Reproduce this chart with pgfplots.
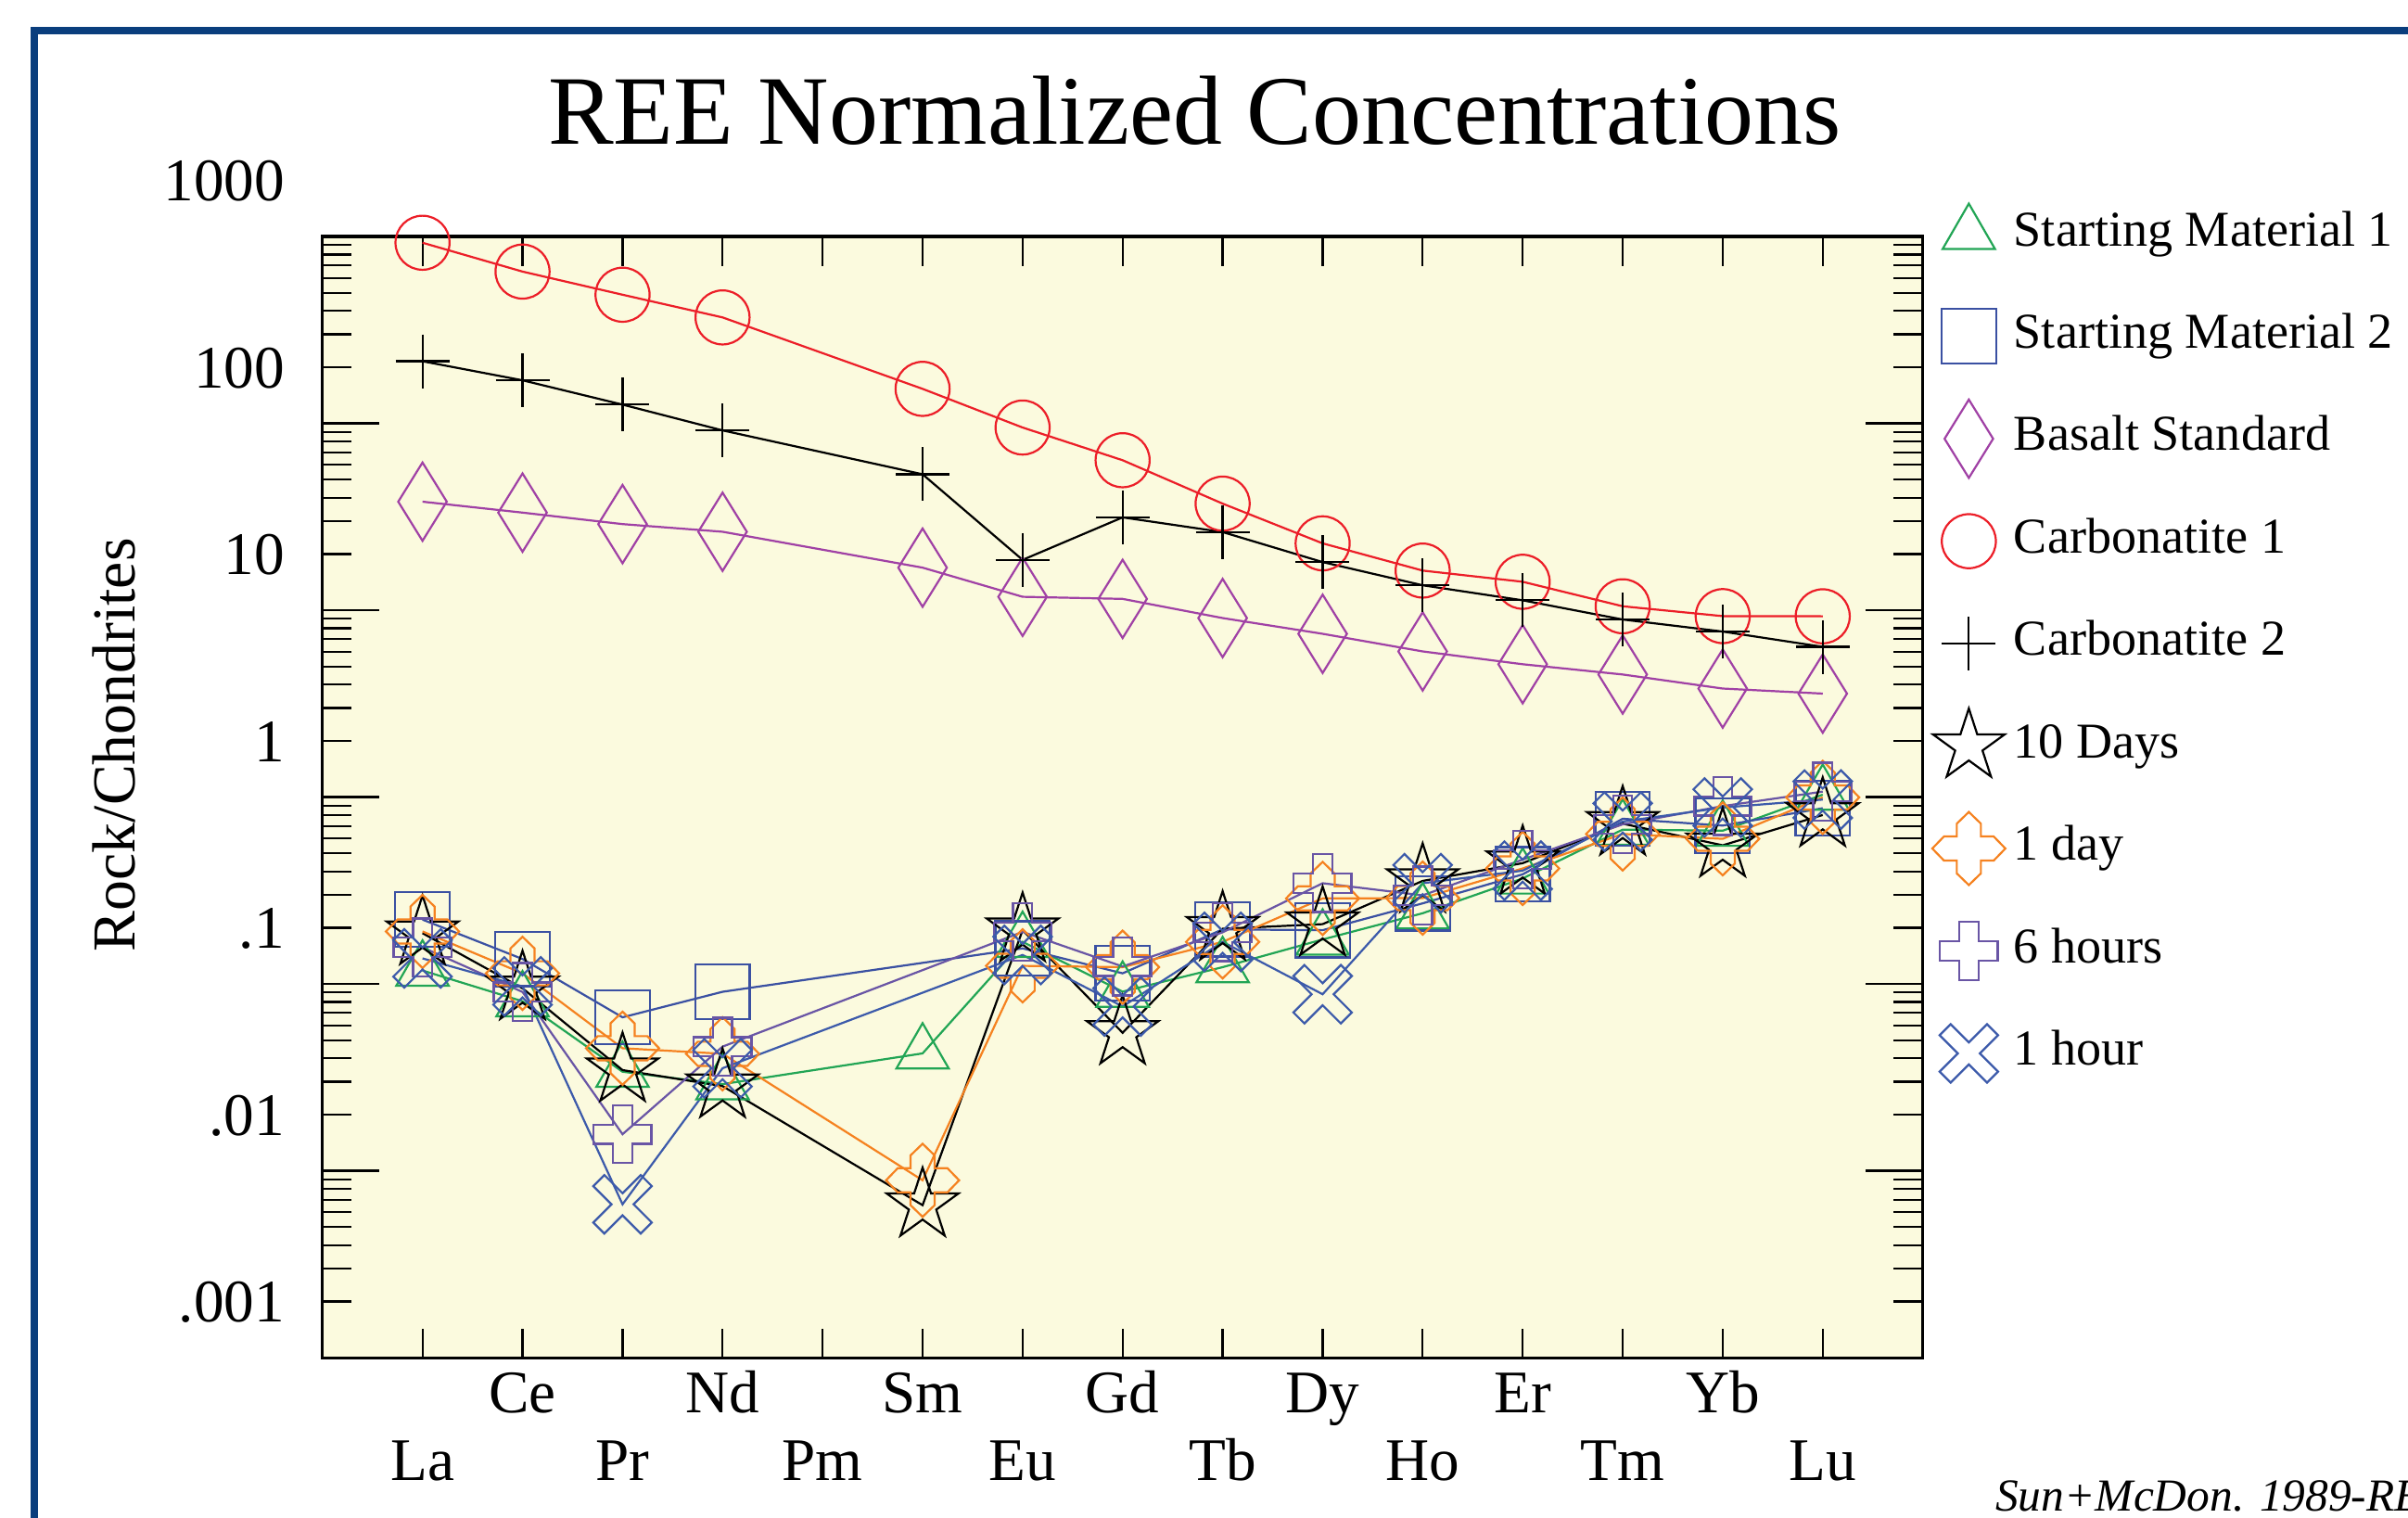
\documentclass[border=0pt]{standalone}
\usepackage{fontspec}
\setmainfont{Liberation Serif}
\usepackage{pgfplots}
\pgfplotsset{compat=1.18}

\definecolor{bgyel}{RGB}{251,250,222}
\definecolor{frameblue}{RGB}{10,62,125}
\definecolor{smgreen}{RGB}{34,165,85}
\definecolor{smblue}{RGB}{58,80,162}
\definecolor{basalt}{RGB}{160,65,165}
\definecolor{carbred}{RGB}{236,30,40}
\definecolor{dayorange}{RGB}{245,130,32}
\definecolor{hrpurple}{RGB}{105,85,165}
\definecolor{hrblue}{RGB}{60,90,170}

% outlined marks used by the original program
\def\mpt#1#2{\pgfqpoint{#1\pgfplotmarksize}{#2\pgfplotmarksize}}
\pgfdeclareplotmark{tdiamond}{%
  \pgfpathmoveto{\mpt{0}{1}}\pgfpathlineto{\mpt{0.62}{0}}%
  \pgfpathlineto{\mpt{0}{-1}}\pgfpathlineto{\mpt{-0.62}{0}}%
  \pgfpathclose\pgfusepathqstroke}
\pgfdeclareplotmark{ostar}{%
  \pgfpathmoveto{\pgfpointpolar{90}{\pgfplotmarksize}}%
  \pgfpathlineto{\pgfpointpolar{126}{0.382\pgfplotmarksize}}%
  \pgfpathlineto{\pgfpointpolar{162}{\pgfplotmarksize}}%
  \pgfpathlineto{\pgfpointpolar{198}{0.382\pgfplotmarksize}}%
  \pgfpathlineto{\pgfpointpolar{234}{\pgfplotmarksize}}%
  \pgfpathlineto{\pgfpointpolar{270}{0.382\pgfplotmarksize}}%
  \pgfpathlineto{\pgfpointpolar{306}{\pgfplotmarksize}}%
  \pgfpathlineto{\pgfpointpolar{342}{0.382\pgfplotmarksize}}%
  \pgfpathlineto{\pgfpointpolar{18}{\pgfplotmarksize}}%
  \pgfpathlineto{\pgfpointpolar{54}{0.382\pgfplotmarksize}}%
  \pgfpathclose\pgfusepathqstroke}
\pgfdeclareplotmark{dayx}{%
  \pgfpathmoveto{\mpt{0}{1}}\pgfpathlineto{\mpt{0.33}{0.68}}%
  \pgfpathlineto{\mpt{0.33}{0.33}}\pgfpathlineto{\mpt{0.68}{0.33}}%
  \pgfpathlineto{\mpt{1}{0}}\pgfpathlineto{\mpt{0.68}{-0.33}}%
  \pgfpathlineto{\mpt{0.33}{-0.33}}\pgfpathlineto{\mpt{0.33}{-0.68}}%
  \pgfpathlineto{\mpt{0}{-1}}\pgfpathlineto{\mpt{-0.33}{-0.68}}%
  \pgfpathlineto{\mpt{-0.33}{-0.33}}\pgfpathlineto{\mpt{-0.68}{-0.33}}%
  \pgfpathlineto{\mpt{-1}{0}}\pgfpathlineto{\mpt{-0.68}{0.33}}%
  \pgfpathlineto{\mpt{-0.33}{0.33}}\pgfpathlineto{\mpt{-0.33}{0.68}}%
  \pgfpathclose\pgfusepathqstroke}
\pgfdeclareplotmark{oplus}{%
  \pgfpathmoveto{\mpt{0.33}{1}}\pgfpathlineto{\mpt{0.33}{0.33}}%
  \pgfpathlineto{\mpt{1}{0.33}}\pgfpathlineto{\mpt{1}{-0.33}}%
  \pgfpathlineto{\mpt{0.33}{-0.33}}\pgfpathlineto{\mpt{0.33}{-1}}%
  \pgfpathlineto{\mpt{-0.33}{-1}}\pgfpathlineto{\mpt{-0.33}{-0.33}}%
  \pgfpathlineto{\mpt{-1}{-0.33}}\pgfpathlineto{\mpt{-1}{0.33}}%
  \pgfpathlineto{\mpt{-0.33}{0.33}}\pgfpathlineto{\mpt{-0.33}{1}}%
  \pgfpathclose\pgfusepathqstroke}
\pgfdeclareplotmark{ocross}{%
  \pgfpathmoveto{\mpt{-0.608}{0.976}}\pgfpathlineto{\mpt{0}{0.368}}%
  \pgfpathlineto{\mpt{0.608}{0.976}}\pgfpathlineto{\mpt{0.976}{0.608}}%
  \pgfpathlineto{\mpt{0.368}{0}}\pgfpathlineto{\mpt{0.976}{-0.608}}%
  \pgfpathlineto{\mpt{0.608}{-0.976}}\pgfpathlineto{\mpt{0}{-0.368}}%
  \pgfpathlineto{\mpt{-0.608}{-0.976}}\pgfpathlineto{\mpt{-0.976}{-0.608}}%
  \pgfpathlineto{\mpt{-0.368}{0}}\pgfpathlineto{\mpt{-0.976}{0.608}}%
  \pgfpathclose\pgfusepathqstroke}

\pgfplotsset{
  ree/.style={line width=0.38pt, mark options={solid, line width=0.38pt}},
}

\begin{document}
\begin{tikzpicture}
\begin{axis}[
  at={(0,0)}, anchor=south west,
  scale only axis, width=10.42cm, height=7.30cm,
  xmin=0, xmax=16,
  ymode=log, ymin=0.001, ymax=1000,
  clip=false,
  axis background/.style={fill=bgyel},
  axis line style={line width=0.55pt},
  tick align=inside, tick pos=both,
  major tick length=0.37cm, minor tick length=0.19cm,
  tick style={black, line width=0.4pt},
  xtick={2,4,...,14},
  xticklabels={Ce,Nd,Sm,Gd,Dy,Er,Yb},
  minor xtick={1,...,15},
  every major x tick/.append style={draw=none},
  extra x ticks={1,3,...,15},
  extra x tick labels={La,Pr,Pm,Eu,Tb,Ho,Tm,Lu},
  extra x tick style={major tick length=0pt, xticklabel style={yshift=-0.44cm}},
  xticklabel style={anchor=north, inner sep=0pt, text height=0.27cm, text depth=0.1cm, yshift=-0.08cm},
  ytick={0.001,0.01,0.1,1,10,100,1000},
  yticklabels={.001,.01,.1,1,10,100,1000},
  minor ytick={0.002,0.003,0.004,0.005,0.006,0.007,0.008,0.009,
    0.02,0.03,0.04,0.05,0.06,0.07,0.08,0.09,
    0.2,0.3,0.4,0.5,0.6,0.7,0.8,0.9,
    2,3,4,5,6,7,8,9, 20,30,40,50,60,70,80,90,
    200,300,400,500,600,700,800,900},
  yticklabel style={anchor=east, inner sep=0pt, xshift=-0.24cm, yshift=0.36cm},
  ticklabel style={font=\fontsize{11.2}{13}\selectfont},
  title={REE Normalized Concentrations},
  title style={at={(axis description cs:0.5451,1.0533)}, anchor=base, inner sep=0pt,
    font=\fontsize{18.2}{21}\selectfont},
  ylabel={Rock/Chondrites},
  ylabel style={at={(axis description cs:-0.1171,0.5466)}, anchor=base, inner sep=0pt,
    font=\fontsize{11.3}{13}\selectfont},
  legend image code/.code={\draw[#1, only marks] plot coordinates {(0cm,0cm)};},
  legend cell align=left,
  legend style={at={(axis description cs:1.0053,1.0490)}, anchor=north west,
    draw=none, fill=none, inner sep=0pt, column sep=0.055cm, row sep=0pt,
    font=\fontsize{9.3}{11}\selectfont,
    nodes={inner sep=0pt, text height=0.411cm, text depth=0.256cm}},
]
\addplot[ree, smgreen, mark=triangle, mark size=0.197cm] coordinates {
  (1,0.118) (2,0.0808) (3,0.0339) (4,0.0291) (6,0.0425) (7,0.168) (8,0.091)
  (9,0.123) (10,0.173) (11,0.239) (12,0.367) (13,0.670) (14,0.661) (15,1.03)};
\addlegendentry{Starting Material 1}
\addplot[ree, smblue, mark=square, mark size=0.177cm] coordinates {
  (1,0.221) (2,0.136) (3,0.0663) (4,0.0908) (7,0.155) (8,0.114)
  (9,0.196) (10,0.194) (11,0.27) (12,0.386) (13,0.766) (14,0.704) (15,0.872)};
\addlegendentry{Starting Material 2}
\addplot[ree, basalt, mark=tdiamond, mark size=0.255cm] coordinates {
  (1,38.1) (2,33.3) (3,28.9) (4,26.3) (6,16.9) (7,11.8) (8,11.5)
  (9,9.08) (10,7.48) (11,6.02) (12,5.14) (13,4.53) (14,3.81) (15,3.58)};
\addlegendentry{Basalt Standard}
\addplot[ree, carbred, mark=o, mark size=0.176cm] coordinates {
  (1,926) (2,649) (3,488) (4,369) (6,153) (7,95) (8,63.5)
  (9,37.2) (10,22.8) (11,16.3) (12,14.2) (13,10.5) (14,9.3) (15,9.28)};
\addlegendentry{Carbonatite 1}
\addplot[ree, black, mark=+, mark size=0.175cm] coordinates {
  (1,215) (2,170) (3,126) (4,91.7) (6,53.4) (7,18.6) (8,31.4)
  (9,26.2) (10,18.1) (11,13.6) (12,11.3) (13,8.92) (14,7.69) (15,6.37)};
\addlegendentry{Carbonatite 2}
\addplot[ree, black, mark=ostar, mark size=0.245cm] coordinates {
  (1,0.187) (2,0.0948) (3,0.0346) (4,0.0284) (6,0.00655) (7,0.194) (8,0.0548)
  (9,0.1975) (10,0.209) (11,0.356) (12,0.443) (13,0.721) (14,0.552) (15,0.802)};
\addlegendentry{10 Days}
\addplot[ree, dayorange, mark=dayx, mark size=0.238cm] coordinates {
  (1,0.191) (2,0.114) (3,0.0453) (4,0.0423) (6,0.0089) (7,0.125) (8,0.123)
  (9,0.168) (10,0.287) (11,0.288) (12,0.415) (13,0.635) (14,0.598) (15,0.996)};
\addlegendentry{1 day}
\addplot[ree, hrpurple, mark=oplus, mark size=0.188cm] coordinates {
  (1,0.157) (2,0.0906) (3,0.0157) (4,0.0462) (7,0.190) (8,0.124)
  (9,0.189) (10,0.346) (11,0.298) (12,0.463) (13,0.715) (14,0.895) (15,1.07)};
\addlegendentry{6 hours}
\addplot[ree, hrblue, mark=ocross, mark size=0.195cm] coordinates {
  (1,0.137) (2,0.097) (3,0.00662) (4,0.0354) (7,0.143) (8,0.0758)
  (9,0.168) (10,0.0881) (11,0.346) (12,0.404) (13,0.74) (14,0.879) (15,0.97)};
\addlegendentry{1 hour}
\end{axis}
\draw[frameblue, line width=1.37pt] (-1.877,-1.3) -- (-1.877,8.641) -- (13.9,8.641);
% the source image is cropped through this credit line
\node[anchor=base west, inner sep=0pt, font=\fontsize{8.5}{10}\selectfont\itshape]
  at (10.887,-1.00) {Sun+McDon. 1989-REE};
\pgfresetboundingbox
\path[use as bounding box] (-2.10,-1.04) rectangle (13.58,8.84);
\end{tikzpicture}
\end{document}
